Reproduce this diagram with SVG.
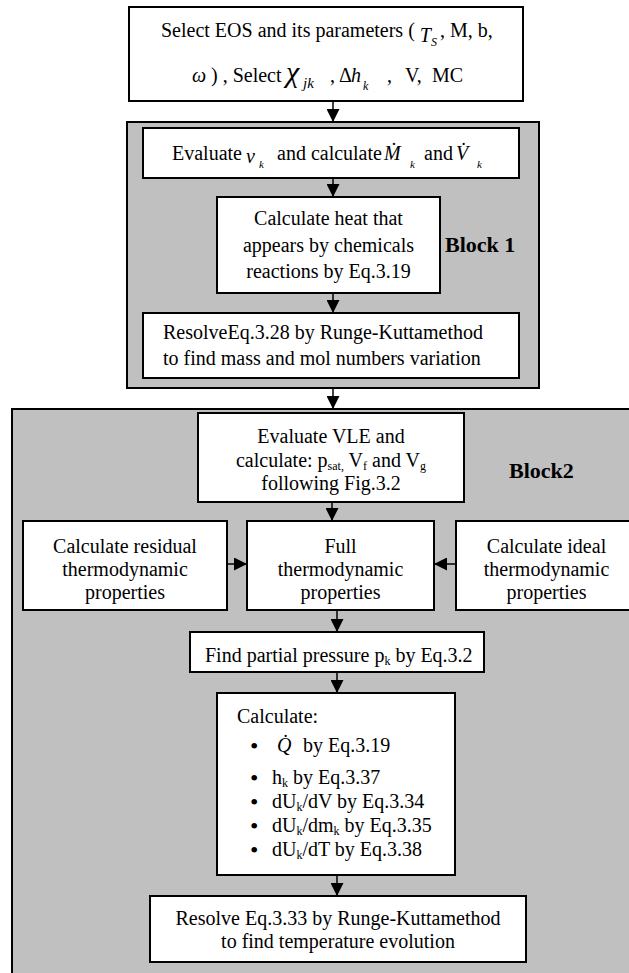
<svg xmlns="http://www.w3.org/2000/svg" width="629" height="973" viewBox="0 0 629 973">
<style>
.t{font-family:"Liberation Serif","Times New Roman",serif;font-size:20px;fill:#000}
.c{text-anchor:middle}
.i{font-style:italic}
.s{font-size:12px}
.bu{font-size:24px}
.lb{font-family:"Liberation Serif","Times New Roman",serif;font-size:22px;font-weight:bold;fill:#000}
.box{fill:#fff;stroke:#000;stroke-width:2}
.blk{fill:#c0c0c0;stroke:#000;stroke-width:2}
.con line{stroke:#000;stroke-width:1.5;marker-end:url(#ah)}
</style>
<defs>
<marker id="ah" markerUnits="userSpaceOnUse" markerWidth="13" markerHeight="13" refX="13" refY="6.5" orient="auto" viewBox="0 0 13 13">
<path d="M0,0 L13,6.5 L0,13 z" fill="#000"/>
</marker>
</defs>
<rect width="629" height="973" fill="#fff"/>

<g id="block1">
<rect class="blk" x="127" y="122" width="412" height="266"/>
<text class="lb" x="445" y="252">Block 1</text>
</g>
<g id="block2">
<rect class="blk" x="12" y="409" width="640" height="600"/>
<text class="lb" x="509" y="478">Block2</text>
</g>

<g id="select">
<rect class="box" x="129" y="7" width="394" height="94"/>
<text class="t" x="161" y="37">Select EOS and its parameters (<tspan class="i" dx="5" dy="5">T</tspan><tspan class="i s" dy="4">S</tspan><tspan dx="3" dy="-9">, M, b,</tspan></text>
<text class="t" y="82"><tspan class="i" x="192">ω</tspan><tspan x="211">) , Select</tspan><tspan class="i" x="286" font-size="30">χ</tspan><tspan class="i" x="303" y="88" font-size="15">jk</tspan><tspan x="330" y="82">,</tspan><tspan x="339">Δ</tspan><tspan class="i" x="351">h</tspan><tspan class="i s" x="363" y="90">k</tspan><tspan x="387" y="82">,</tspan><tspan x="405">V,</tspan><tspan x="432">MC</tspan></text>
</g>

<g id="evaluate-vk">
<rect class="box" x="143" y="128" width="376" height="50"/>
<text class="t" y="160"><tspan x="172">Evaluate</tspan><tspan class="i" x="246" y="163">ν</tspan><tspan class="i" x="259" y="168" font-size="11">k</tspan><tspan x="277" y="160">and calculate</tspan><tspan class="i" x="384">M&#x307;</tspan><tspan class="i" x="410" y="168" font-size="11">k</tspan><tspan x="424" y="160">and</tspan><tspan class="i" x="456">V&#x307;</tspan><tspan class="i" x="477" y="168" font-size="11">k</tspan></text>
</g>

<g id="heat">
<rect class="box" x="217" y="197" width="223" height="96"/>
<text class="t c" x="328.5" y="225">Calculate heat that</text>
<text class="t c" x="328.5" y="252">appears by chemicals</text>
<text class="t c" x="328.5" y="278">reactions by Eq.3.19</text>
</g>

<g id="resolve1">
<rect class="box" x="143" y="313" width="376" height="65"/>
<text class="t" x="163" y="339">ResolveEq.3.28 by Runge-Kuttamethod</text>
<text class="t" x="163" y="365">to find mass and mol numbers variation</text>
</g>

<g id="vle">
<rect class="box" x="198" y="413" width="266" height="89"/>
<text class="t c" x="331" y="443">Evaluate VLE and</text>
<text class="t c" x="331" y="467">calculate: p<tspan class="s" dy="3">sat,</tspan><tspan dy="-3"> V</tspan><tspan class="s" dy="3">f</tspan><tspan dy="-3"> and V</tspan><tspan class="s" dy="3">g</tspan></text>
<text class="t c" x="331" y="490">following Fig.3.2</text>
</g>

<g id="residual">
<rect class="box" x="23" y="521" width="204" height="89"/>
<text class="t c" x="125" y="553">Calculate residual</text>
<text class="t c" x="125" y="576">thermodynamic</text>
<text class="t c" x="125" y="599">properties</text>
</g>

<g id="full">
<rect class="box" x="247" y="521" width="187" height="89"/>
<text class="t c" x="340.5" y="553">Full</text>
<text class="t c" x="340.5" y="576">thermodynamic</text>
<text class="t c" x="340.5" y="599">properties</text>
</g>

<g id="ideal">
<rect class="box" x="456" y="521" width="184" height="89"/>
<text class="t c" x="546.5" y="553">Calculate ideal</text>
<text class="t c" x="546.5" y="576">thermodynamic</text>
<text class="t c" x="546.5" y="599">properties</text>
</g>

<g id="partial">
<rect class="box" x="190" y="632" width="294" height="40"/>
<text class="t" x="205" y="662">Find partial pressure p<tspan class="s" dy="3">k</tspan><tspan dy="-3"> by Eq.3.2</tspan></text>
</g>

<g id="calculate">
<rect class="box" x="217" y="693" width="238" height="182"/>
<text class="t" x="237" y="723">Calculate:</text>
<text class="t bu" x="250" y="754">•</text>
<text class="t i" x="277" y="752">Q&#x307;</text>
<text class="t" x="303" y="752">by Eq.3.19</text>
<text class="t bu" x="250" y="786">•</text>
<text class="t" x="272" y="784">h<tspan class="s" dy="3">k</tspan><tspan dy="-3"> by Eq.3.37</tspan></text>
<text class="t bu" x="250" y="810">•</text>
<text class="t" x="272" y="808">dU<tspan class="s" dy="3">k</tspan><tspan dy="-3">/dV by Eq.3.34</tspan></text>
<text class="t bu" x="250" y="834">•</text>
<text class="t" x="272" y="832">dU<tspan class="s" dy="3">k</tspan><tspan dy="-3">/dm</tspan><tspan class="s" dy="3">k</tspan><tspan dy="-3"> by Eq.3.35</tspan></text>
<text class="t bu" x="250" y="858">•</text>
<text class="t" x="272" y="856">dU<tspan class="s" dy="3">k</tspan><tspan dy="-3">/dT by Eq.3.38</tspan></text>
</g>

<g id="resolve2">
<rect class="box" x="150" y="896" width="376" height="66"/>
<text class="t c" x="338" y="925">Resolve Eq.3.33 by Runge-Kuttamethod</text>
<text class="t c" x="338" y="948">to find temperature evolution</text>
</g>

<g class="con" id="connectors">
<line x1="333" y1="101" x2="333" y2="122"/>
<line x1="333" y1="178" x2="333" y2="197"/>
<line x1="333" y1="293" x2="333" y2="313"/>
<line x1="333" y1="388" x2="333" y2="409"/>
<line x1="332" y1="502" x2="332" y2="521"/>
<line x1="227" y1="564" x2="247" y2="564"/>
<line x1="456" y1="564" x2="434" y2="564"/>
<line x1="337" y1="610" x2="337" y2="632"/>
<line x1="337" y1="672" x2="337" y2="693"/>
<line x1="337" y1="875" x2="337" y2="896"/>
</g>
</svg>
